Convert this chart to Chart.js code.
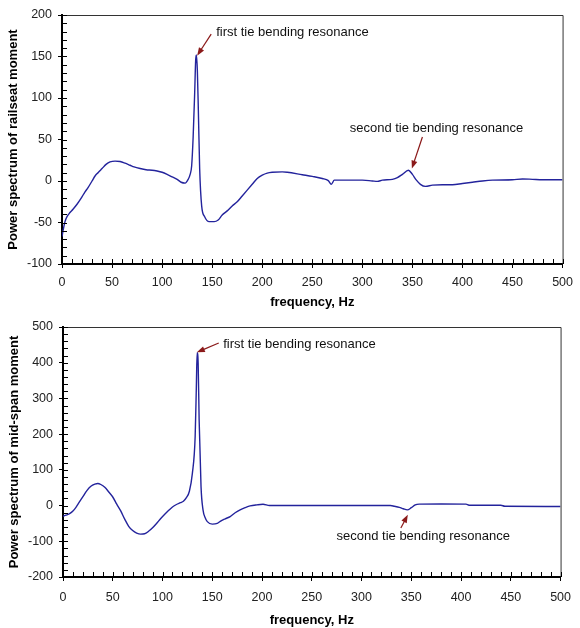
<!DOCTYPE html>
<html>
<head>
<meta charset="utf-8">
<script src="https://cdn.jsdelivr.net/npm/chart.js@4.4.1/dist/chart.umd.min.js"></script>
<style>
    html, body { margin: 0; padding: 0; background: #fff; }
    .box { position: relative; width: 580px; }
    #topBox { height: 312px; }
    #bottomBox { height: 316px; }
</style>
</head>
<body>
<div class="box" id="topBox"><canvas id="railseatChart"></canvas></div>
<div class="box" id="bottomBox"><canvas id="midspanChart"></canvas></div>
<script>
// values
const freqTicks = [0, 50, 100, 150, 200, 250, 300, 350, 400, 450, 500];
const railseatTicks = [-100, -50, 0, 50, 100, 150, 200];
const midspanTicks = [-200, -100, 0, 100, 200, 300, 400, 500];

const freqRailseat = [0, 1.5, 3, 5, 8, 11, 15, 19, 23, 26, 30, 33, 36, 40, 44, 48, 53, 58, 63, 68,
    72, 78, 84, 90, 95, 100, 105, 110, 115, 119, 123, 126, 128, 129.5, 131, 132.5, 133.5, 134.2, 135.2, 136.2,
    137.5, 139.5, 142.5, 147, 152, 156, 160, 165, 170, 175, 180, 185, 190, 195, 200, 205, 210, 220, 225, 240,
    250, 260, 266, 269, 272, 275, 290, 300, 310, 315, 320, 330, 335, 340, 346, 350, 354, 358, 363, 370,
    380, 390, 400, 410, 420, 430, 450, 460, 470, 480, 500];
const railseatMoment = [-67, -57, -49, -43, -38, -34, -28, -21, -13, -8, 0, 6, 10, 15, 20, 23, 24, 23.5, 21.5, 19,
    17, 15, 13.5, 13, 12, 10.5, 8, 5, 2, -1.5, -2.5, 2, 8, 18, 53, 105, 145, 152, 133, 85,
    15, -30, -43, -49, -49, -47, -41, -36, -30, -25, -18, -11, -4, 3, 7, 9.5, 10.5, 11, 10.5, 7.5,
    5.5, 3, 0.5, -4, 1, 1, 1, 1, 0, -0.5, 1, 2, 4, 8, 13, 8, 1, -4, -6.5, -5,
    -4.5, -4.5, -3, -1.5, 0, 1, 1.5, 2.5, 2, 1.5, 1.5];

const freqMidspan = [0, 3, 7, 10, 13, 16, 20, 24, 28, 32, 35, 38, 42, 46, 50, 54, 58, 62, 66, 70,
    74, 78, 82, 86, 90, 94, 98, 102, 106, 110, 114, 118, 121, 124, 127, 130, 132.8, 134, 134.8, 135.8,
    136.8, 138.7, 140.7, 143, 145, 150, 155, 158, 163, 168, 173, 178, 183, 188, 195, 201, 207.5, 250, 300, 329,
    333, 338, 342, 346, 350, 354, 358, 380, 405, 408, 440, 444, 500];
const midspanMoment = [-30, -27, -22, -15, -5, 8, 25, 42, 54, 60, 62, 59, 51, 38, 24, 4, -15, -38, -58, -70,
    -77, -80, -79, -72, -62, -50, -37, -25, -14, -4, 3, 8, 12, 22, 40, 90, 193, 333, 428, 400,
    240, 53, -12, -35, -45, -52, -50, -44, -37, -31, -20, -12, -6, -1, 2, 3.5, 0, 0, 0, 0,
    -2, -5, -9, -12, -6, 2, 4, 4.5, 4, 1, 1, -2, -2.5];

const FONT = "'Liberation Sans', Arial, sans-serif";

// frame on top/right, inward minor ticks, and the arrow callouts
const framePlugin = {
    id: "frame",
    afterDraw(chart, args, opts) {
        const { ctx, chartArea: a, scales } = chart;
        const xs = scales.x, ys = scales.y;
        ctx.save();
        ctx.strokeStyle = "#333";
        ctx.lineWidth = 1;
        ctx.beginPath();
        ctx.moveTo(a.left, a.top + 0.5);
        ctx.lineTo(a.right + 0.5, a.top + 0.5);
        ctx.lineTo(a.right + 0.5, a.bottom);
        ctx.stroke();

        ctx.strokeStyle = "#000";
        ctx.beginPath();
        for (let v = xs.min; v <= xs.max; v += opts.xStep) {
            const px = Math.round(xs.getPixelForValue(v)) + 0.5;
            ctx.moveTo(px, a.bottom);
            ctx.lineTo(px, a.bottom - 5);
        }
        for (let v = ys.min; v <= ys.max; v += opts.yStep) {
            const py = Math.round(ys.getPixelForValue(v)) + 0.5;
            ctx.moveTo(a.left, py);
            ctx.lineTo(a.left + 5, py);
        }
        ctx.stroke();

        (opts.callouts || []).forEach(c => {
            const x1 = xs.getPixelForValue(c.from[0]), y1 = ys.getPixelForValue(c.from[1]);
            const x2 = xs.getPixelForValue(c.to[0]), y2 = ys.getPixelForValue(c.to[1]);
            const ang = Math.atan2(y2 - y1, x2 - x1);
            ctx.strokeStyle = "#8b1a1a";
            ctx.fillStyle = "#8b1a1a";
            ctx.lineWidth = 1.2;
            ctx.beginPath();
            ctx.moveTo(x1, y1);
            ctx.lineTo(x2 - 5 * Math.cos(ang), y2 - 5 * Math.sin(ang));
            ctx.stroke();
            ctx.beginPath();
            ctx.moveTo(x2, y2);
            ctx.lineTo(x2 - 8 * Math.cos(ang) + 3 * Math.sin(ang), y2 - 8 * Math.sin(ang) - 3 * Math.cos(ang));
            ctx.lineTo(x2 - 8 * Math.cos(ang) - 3 * Math.sin(ang), y2 - 8 * Math.sin(ang) + 3 * Math.cos(ang));
            ctx.closePath();
            ctx.fill();

            ctx.fillStyle = "#111";
            ctx.font = "13px " + FONT;
            ctx.textAlign = c.align;
            ctx.textBaseline = "middle";
            ctx.fillText(c.text, xs.getPixelForValue(c.at[0]), ys.getPixelForValue(c.at[1]));
        });
        ctx.restore();
    }
};

function makeChart(id, freq, values, yTicks, yTitle, box) {
    return new Chart(document.getElementById(id), {
        type: "line",
        data: {
            datasets: [{
                data: freq.map((f, i) => ({ x: f, y: values[i] })),
                borderColor: "#23239c",
                borderWidth: 1.4,
                pointRadius: 0,
                cubicInterpolationMode: "monotone",
                fill: false
            }]
        },
        options: {
            responsive: true,
            maintainAspectRatio: false,
            animation: false,
            layout: { padding: { top: box.top, right: box.right, left: 0, bottom: 0 } },
            scales: {
                x: {
                    type: "linear",
                    min: 0,
                    max: 500,
                    afterBuildTicks: s => { s.ticks = freqTicks.map(v => ({ value: v })); },
                    afterFit: s => { s.height = box.xHeight; },
                    ticks: { color: "#222", font: { family: FONT, size: 12.5 }, padding: box.xPad, maxRotation: 0 },
                    grid: { drawOnChartArea: false, drawTicks: true, tickLength: 4, tickColor: "#000" },
                    border: { display: true, color: "#000", width: 2 },
                    title: {
                        display: true,
                        text: "frequency, Hz",
                        color: "#000",
                        font: { family: FONT, size: 13, weight: "bold" },
                        padding: { top: 0, bottom: box.xTitlePad }
                    }
                },
                y: {
                    min: yTicks[0],
                    max: yTicks[yTicks.length - 1],
                    afterBuildTicks: s => { s.ticks = yTicks.map(v => ({ value: v })); },
                    afterFit: s => { s.width = box.yWidth; },
                    ticks: { color: "#222", font: { family: FONT, size: 12.5 }, padding: 6 },
                    grid: { drawOnChartArea: false, drawTicks: true, tickLength: 4, tickColor: "#000" },
                    border: { display: true, color: "#000", width: 2 },
                    title: {
                        display: true,
                        text: yTitle,
                        color: "#000",
                        font: { family: FONT, size: 13, weight: "bold" },
                        padding: { top: box.yTitlePad, bottom: 0 }
                    }
                }
            },
            plugins: {
                legend: { display: false },
                tooltip: { enabled: false },
                frame: { xStep: 10, yStep: box.yMinor, callouts: box.callouts }
            }
        },
        plugins: [framePlugin]
    });
}

makeChart("railseatChart", freqRailseat, railseatMoment, railseatTicks,
    "Power spectrum of railseat moment", {
        top: 15, right: 12, yWidth: 62, xHeight: 48, xPad: 7, xTitlePad: 2, yTitlePad: 6, yMinor: 10,
        callouts: [
            { text: "first tie bending resonance", align: "left", at: [154, 179], from: [149, 177], to: [135, 151] },
            { text: "second tie bending resonance", align: "center", at: [374, 63], from: [360, 53], to: [349.5, 15] }
        ]
    });

makeChart("midspanChart", freqMidspan, midspanMoment, midspanTicks,
    "Power spectrum of mid-span moment", {
        top: 15, right: 11, yWidth: 63, xHeight: 51, xPad: 9, xTitlePad: 0, yTitlePad: 7, yMinor: 20,
        callouts: [
            { text: "first tie bending resonance", align: "left", at: [161, 450], from: [156.5, 455], to: [134.5, 429] },
            { text: "second tie bending resonance", align: "center", at: [362, -87], from: [339.5, -63], to: [346.5, -26] }
        ]
    });
</script>
</body>
</html>
